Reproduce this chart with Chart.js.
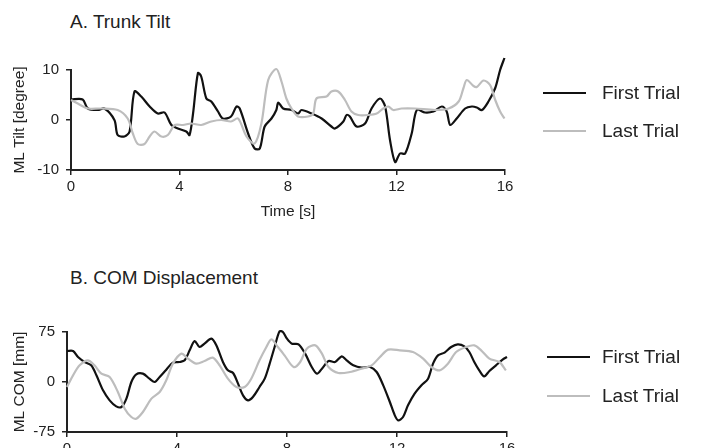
<!DOCTYPE html>
<html>
<head>
<meta charset="utf-8">
<script src="https://cdn.jsdelivr.net/npm/chart.js@4.4.1/dist/chart.umd.min.js"></script>
<style>
  body { margin:0; background:#fff; font-family:"Liberation Sans", Arial, sans-serif; color:#222; }
  #wrap { position:relative; width:711px; height:448px; overflow:hidden; background:#fff; }
  .panel { position:absolute; left:0; width:711px; }
  .ptitle { position:absolute; left:70px; font-size:19px; line-height:22px; white-space:nowrap; }
  .lg-line { position:absolute; width:43px; }
  .lg-text { position:absolute; left:602px; font-size:19px; line-height:22px; white-space:nowrap; }
</style>
</head>
<body>
<div id="wrap">
  <div class="ptitle" style="top:11px">A. Trunk Tilt</div>
  <div class="panel" style="top:0;height:230px"><canvas id="chartA" width="711" height="230"></canvas></div>
  <div class="lg-line" style="left:543px;top:92px;height:2px;background:#111"></div>
  <div class="lg-text" style="top:82px">First Trial</div>
  <div class="lg-line" style="left:543px;top:130px;height:2px;background:#bdbdbd"></div>
  <div class="lg-text" style="top:120px">Last Trial</div>

  <div class="ptitle" style="top:267px">B. COM Displacement</div>
  <div class="panel" style="top:260px;height:188px"><canvas id="chartB" width="711" height="188"></canvas></div>
  <div class="lg-line" style="left:547px;top:356px;height:2px;background:#111"></div>
  <div class="lg-text" style="top:346px">First Trial</div>
  <div class="lg-line" style="left:547px;top:395px;height:2px;background:#bdbdbd"></div>
  <div class="lg-text" style="top:385px">Last Trial</div>
</div>
<script>
// A. trunk tilt (degree), first trial
const tiltFirstT = [0,0.43,0.62,0.99,1.23,1.6,1.72,1.97,2.16,2.34,2.59,2.9,3.2,3.45,3.7,3.94,4.25,4.37,4.5,4.68,4.8,4.99,5.17,5.42,5.6,5.9,6.1,6.22,6.53,6.77,6.96,7.14,7.39,7.57,7.64,7.82,8.13,8.37,8.5,8.87,9.24,9.6,9.73,10.04,10.16,10.28,10.53,10.84,11.08,11.39,11.58,11.76,11.95,12.13,12.32,12.56,12.75,13.05,13.36,13.67,13.85,13.98,14.22,14.53,14.78,14.96,15.15,15.39,15.64,15.82,15.98];
const tiltFirst = [4.1,4.1,2.3,2,2.3,0,-3,-3.3,-2.3,5.7,4.7,2.7,1.3,1.5,-1,-1.7,-2.3,-3,1.3,9.4,8.7,4.3,3.7,1.7,0.3,0.7,2.7,2.3,-2.7,-5.7,-5.7,-1.3,0.3,2,3.5,2.3,2,1.3,2,1.3,0.3,-1.3,-1.7,-0.3,1,0.7,-1.3,-0.7,2.3,4.3,2.7,-4,-8.4,-6.7,-6.7,-2.7,2,1.5,1.7,2.7,1.7,-1,0.3,2.3,2.7,2.5,2,3.7,6.4,10,12.4];
// A. trunk tilt, last trial
const tiltLastT = [0,0.25,0.62,1.11,1.72,2.09,2.28,2.46,2.71,2.9,3.08,3.33,3.57,3.82,4.13,4.43,4.8,5.17,5.54,5.9,6.16,6.47,6.77,7.02,7.27,7.57,7.76,7.94,8.13,8.37,8.74,8.93,9.05,9.42,9.6,9.85,10.1,10.34,10.59,10.96,11.27,11.51,11.7,11.88,12.19,12.68,13.42,13.92,14.29,14.47,14.59,14.84,14.96,15.21,15.45,15.64,15.82,15.98];
const tiltLast = [4,3.3,2.3,2.3,2,0.3,-2.7,-4.8,-4.8,-3.3,-2.3,-3.3,-3,-1,-1,-0.7,-1,-0.3,0,-0.3,0.3,-3.3,-4.7,-0.7,8,10.2,7.7,4.3,2.3,0.7,0.7,1.3,4.3,4.7,5.7,5.7,4,1.7,1,1,1.3,2.3,2.7,2,2.3,2.3,2,2.3,3.7,6.4,8,6.8,6.6,7.9,7,4,1.7,0.3];

// B. COM displacement (mm), first trial
const comFirstT = [0,0.22,0.4,0.64,0.88,1.07,1.31,1.55,1.79,1.98,2.16,2.34,2.52,2.76,3.0,3.19,3.37,3.61,3.85,4.1,4.28,4.46,4.64,4.82,5.0,5.25,5.43,5.67,5.85,6.04,6.22,6.4,6.58,6.76,7.0,7.19,7.37,7.55,7.73,7.85,8.0,8.18,8.42,8.66,8.9,9.09,9.27,9.51,9.75,9.99,10.17,10.41,10.71,11.02,11.26,11.5,11.74,11.92,12.04,12.22,12.4,12.64,12.89,13.13,13.31,13.49,13.73,13.97,14.21,14.45,14.63,14.81,14.99,15.17,15.36,15.6,15.84,16.0];
const comFirst = [46.5,46.5,37.5,30,25,10,-12.5,-27.5,-36.5,-37.5,-25,0,11.5,12.5,5,0,7.5,18.5,29,30,32.5,47.5,61.5,52.5,57.5,65,55,30,17.5,13.5,-2.5,-20,-27.5,-22.5,-7.5,5,27.5,52.5,76,75,65,57.5,56.5,42.5,22.5,12.5,20,31.5,30,38.5,32.5,25,21.5,22.5,15,-5,-30,-50,-57.5,-52.5,-35,-17.5,-5,5,27.5,40,44,52.5,56.5,53.5,45,30,17.5,8.5,16.5,25,33.5,37.5];
// B. COM displacement, last trial
const comLastT = [0,0.22,0.46,0.76,1.0,1.25,1.55,1.85,2.1,2.34,2.52,2.76,3.07,3.37,3.61,3.85,4.16,4.4,4.7,5.0,5.3,5.55,5.85,6.16,6.46,6.7,7.0,7.25,7.43,7.67,7.91,8.24,8.48,8.72,9.03,9.27,9.51,9.87,10.29,10.71,11.08,11.38,11.68,12.1,12.58,12.95,13.25,13.55,13.85,14.15,14.51,14.81,15.06,15.36,15.72,15.96];
const comLast = [-7.5,10,25,32.5,25,12.5,7.5,-15,-40,-52.5,-55,-45,-25,-15,2.5,27.5,42.5,35,27.5,31.5,36.5,25,5,-7.5,-7.5,5,32.5,52.5,64,52.5,40,22.5,30,50,55,42.5,22.5,13.5,15,20,25,37.5,48.5,47.5,45,35,22.5,17.5,27.5,45,52.5,55,47.5,35,30,17.5];

const timeTicks = [0,4,8,12,16];
const tiltTicks = [-10,0,10];
const comTicks = [-75,0,75];

const INK = "#222";
const FONT = "Liberation Sans, Arial, sans-serif";

function pts(ts, vs) { return ts.map((t, i) => ({ x: t, y: vs[i] })); }

function makeChart(id, first, last, yTicks, yTitle, xTitle, box) {
  const xAxis = {
    type: "linear", min: 0, max: 16,
    afterBuildTicks: s => { s.ticks = timeTicks.map(v => ({ value: v })); },
    ticks: { color: INK, font: { family: FONT, size: 15 }, padding: 3, maxRotation: 0 },
    grid: { drawOnChartArea: false, tickLength: 5, color: INK, lineWidth: 1.5 },
    border: { color: INK, width: 2 },
    afterFit: s => { s.height = box.xh; }
  };
  if (xTitle) {
    xAxis.title = { display: true, text: xTitle, color: INK, font: { family: FONT, size: 15.5 }, padding: { top: 0, bottom: 9 } };
  }
  return new Chart(document.getElementById(id), {
    type: "line",
    data: {
      datasets: [
        { label: "Last Trial", data: last, borderColor: "#bdbdbd", borderWidth: 2.2, clip: false },
        { label: "First Trial", data: first, borderColor: "#111", borderWidth: 2.2, clip: false }
      ]
    },
    options: {
      responsive: false,
      animation: false,
      layout: { padding: { left: 0, right: box.right, top: box.top, bottom: 0 } },
      plugins: { legend: { display: false }, tooltip: { enabled: false } },
      elements: { point: { radius: 0 }, line: { tension: 0.3, fill: false } },
      scales: {
        x: xAxis,
        y: {
          min: yTicks[0], max: yTicks[yTicks.length - 1],
          afterBuildTicks: s => { s.ticks = yTicks.map(v => ({ value: v })); },
          ticks: { color: INK, font: { family: FONT, size: 15 }, padding: 7 },
          grid: { drawOnChartArea: false, tickLength: 5, color: INK, lineWidth: 1.5 },
          border: { color: INK, width: 2 },
          title: { display: true, text: yTitle, color: INK, font: { family: FONT, size: 15.5 }, padding: { top: 10, bottom: 0 } },
          afterFit: s => { s.width = box.yw; }
        }
      }
    }
  });
}

makeChart("chartA", pts(tiltFirstT, tiltFirst), pts(tiltLastT, tiltLast), tiltTicks,
  "ML Tilt [degree]", "Time [s]", { top: 70, right: 206, yw: 71, xh: 60 });
makeChart("chartB", pts(comFirstT, comFirst), pts(comLastT, comLast), comTicks,
  "ML COM [mm]", null, { top: 72, right: 204, yw: 67, xh: 16 });
</script>
</body>
</html>
